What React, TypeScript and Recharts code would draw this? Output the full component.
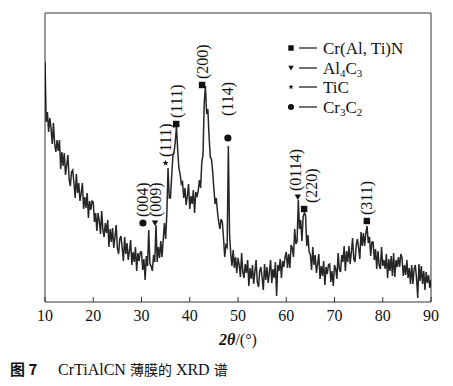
import React from "react";
import { ComposedChart, Line, Scatter, XAxis, YAxis, ReferenceArea } from "recharts";

// 2θ sampling of the scan
const twoThetaStart = 10;
const twoThetaStep = 0.25;

// Diffracted intensity (arbitrary units), one value per 0.25°
const intensity: number[] = [
  240, 180, 190, 170, 184, 174, 158, 179, 158, 150, 162, 151, 162, 133, 150, 136,
  149, 127, 137, 147, 123, 116, 130, 132, 119, 104, 128, 109, 119, 101, 109, 119,
  93, 105, 94, 109, 84, 101, 92, 101, 100, 80, 89, 71, 89, 81, 68, 91,
  72, 65, 79, 69, 82, 55, 73, 60, 74, 54, 65, 77, 54, 48, 63, 66,
  54, 41, 65, 48, 59, 42, 51, 62, 37, 50, 40, 55, 31, 49, 41, 50,
  50, 32, 43, 22, 46, 36, 72, 38, 36, 31, 47, 40, 77, 40, 55, 44,
  61, 45, 62, 79, 63, 88, 134, 104, 104, 125, 146, 150, 160, 176, 152, 134,
  128, 118, 120, 104, 114, 97, 106, 118, 93, 106, 98, 112, 89, 110, 105, 111,
  122, 114, 140, 147, 199, 216, 188, 193, 166, 145, 143, 130, 113, 98, 104, 90,
  80, 73, 83, 80, 64, 45, 57, 55, 156, 68, 48, 36, 52, 34, 45, 29,
  44, 37, 25, 49, 30, 24, 38, 29, 42, 16, 34, 23, 37, 18, 30, 42,
  20, 15, 31, 35, 24, 12, 38, 22, 35, 19, 30, 42, 19, 33, 24, 40,
  6, 37, 31, 43, 24, 41, 35, 45, 50, 34, 48, 34, 57, 54, 45, 73,
  58, 61, 102, 73, 82, 61, 85, 89, 87, 56, 67, 50, 47, 32, 55, 37,
  47, 29, 38, 48, 23, 36, 26, 41, 17, 35, 28, 37, 38, 20, 31, 16,
  37, 33, 23, 49, 33, 30, 47, 40, 56, 31, 51, 40, 56, 38, 50, 64,
  43, 40, 57, 63, 54, 43, 70, 56, 69, 56, 69, 76, 59, 65, 46, 60,
  60, 42, 53, 33, 51, 37, 33, 55, 36, 42, 33, 48, 24, 43, 31, 46,
  26, 49, 25, 42, 35, 45, 35, 48, 44, 26, 37, 27, 42, 24, 34, 18,
  37, 18, 33, 37, 24, 4, 38, 21, 36, 18, 31, 12, 30, 19, 27, 14,
  22,
];

// Peak annotations
const peakTwoTheta = [30.3, 32.8, 35.0, 37.2, 42.55, 47.9, 62.4, 63.7, 76.7];
const peakMarkerLevel = [79, 79, 139, 178, 217, 164, 105, 93, 81];
const peakPhase = ["Cr3C2", "Al4C3", "TiC", "CrAlTiN", "CrAlTiN", "Cr3C2", "Al4C3", "CrAlTiN", "CrAlTiN"];
const peakLabels = ["(004)", "(009)", "(111)", "(111)", "(200)", "(114)", "(0114)", "(220)", "(311)"];

const xTicks = [10, 20, 30, 40, 50, 60, 70, 80, 90];

const scanData = intensity.map((v, i) => ({ tt: twoThetaStart + i * twoThetaStep, v }));
const peakData = peakTwoTheta.map((tt, i) => ({
  tt,
  v: peakMarkerLevel[i],
  phase: peakPhase[i],
  label: peakLabels[i],
}));

// label placement styling (gap above marker, horizontal shift)
const labelGap: Record<string, number> = { "(114)": 22 };
const labelShift: Record<string, number> = { "(220)": 7, "(0114)": -2 };

const SERIF = "Liberation Serif";
const CJK = "Noto Sans CJK SC";
const INK = "#111";

function Marker({ kind, x, y, s = 1 }: { kind: string; x: number; y: number; s?: number }) {
  if (kind === "CrAlTiN") {
    const h = 3.2 * s;
    return <rect x={x - h} y={y - h} width={2 * h} height={2 * h} fill={INK} />;
  }
  if (kind === "Al4C3") {
    const w = 3.2 * s;
    return <polygon points={`${x - w},${y - 2.6 * s} ${x + w},${y - 2.6 * s} ${x},${y + 3 * s}`} fill={INK} />;
  }
  if (kind === "TiC") {
    const pts: string[] = [];
    for (let k = 0; k < 10; k++) {
      const r = k % 2 === 0 ? 3.2 * s : 1.3 * s;
      const a = -Math.PI / 2 + (k * Math.PI) / 5;
      pts.push(`${x + r * Math.cos(a)},${y + r * Math.sin(a)}`);
    }
    return <polygon points={pts.join(" ")} fill={INK} />;
  }
  return <circle cx={x} cy={y} r={3.6 * s} fill={INK} />;
}

const PeakShape = (props: any) => {
  const { cx, cy, payload } = props;
  if (cx == null || cy == null) return null;
  const gap = labelGap[payload.label] ?? 6;
  const dx = labelShift[payload.label] ?? 0;
  const lx = cx + dx;
  const ly = cy - gap;
  return (
    <g>
      <Marker kind={payload.phase} x={cx} y={cy} />
      <text
        x={lx}
        y={ly}
        transform={`rotate(-90, ${lx}, ${ly})`}
        textAnchor="start"
        dominantBaseline="central"
        style={{ fontFamily: SERIF, fontSize: 16 }}
        fill={INK}
      >
        {payload.label}
      </text>
    </g>
  );
};

const XTick = (props: any) => {
  const { x, y, payload } = props;
  return (
    <text x={x} y={y} dy="0.71em" textAnchor="middle" style={{ fontFamily: SERIF, fontSize: 16 }} fill={INK}>
      {payload.value}
    </text>
  );
};

const Sub = ({ children }: { children: React.ReactNode }) => (
  <tspan style={{ fontSize: 11 }} dy={3}>{children}</tspan>
);

export default function App() {
  const legendRows = [
    { kind: "CrAlTiN", y: 48, text: <tspan>Cr(Al, Ti)N</tspan> },
    {
      kind: "Al4C3",
      y: 68,
      text: (
        <>
          <tspan>Al</tspan>
          <Sub>4</Sub>
          <tspan dy={-3}>C</tspan>
          <Sub>3</Sub>
        </>
      ),
    },
    { kind: "TiC", y: 87, text: <tspan>TiC</tspan> },
    {
      kind: "Cr3C2",
      y: 107,
      text: (
        <>
          <tspan>Cr</tspan>
          <Sub>3</Sub>
          <tspan dy={-3}>C</tspan>
          <Sub>2</Sub>
        </>
      ),
    },
  ];

  return (
    <div style={{ position: "absolute", left: 0, top: 0, width: 453, height: 386, background: "#fff" }}>
      <ComposedChart
        width={453}
        height={386}
        data={scanData}
        margin={{ top: 13, right: 22, left: 45, bottom: 54 }}
      >
        <XAxis
          dataKey="tt"
          type="number"
          domain={[10, 90]}
          ticks={xTicks}
          height={30}
          axisLine={false}
          tickSize={-5}
          tickMargin={13}
          tickLine={{ stroke: "#333" }}
          tick={XTick}
          allowDataOverflow
        />
        <YAxis type="number" domain={[0, 289]} hide allowDataOverflow />
        <ReferenceArea x1={10} x2={90} y1={0} y2={289} fill="none" stroke="#333" strokeWidth={1} ifOverflow="visible" />
        <Line
          type="linear"
          dataKey="v"
          stroke="#000"
          strokeOpacity={0.85}
          strokeWidth={1.5}
          strokeLinejoin="miter"
          dot={false}
          isAnimationActive={false}
        />
        <Scatter data={peakData} dataKey="v" shape={PeakShape} isAnimationActive={false} />
      </ComposedChart>
      <svg width={453} height={386} style={{ position: "absolute", left: 0, top: 0, pointerEvents: "none" }}>
        {legendRows.map((r) => (
          <g key={r.kind}>
            <Marker kind={r.kind} x={291} y={r.y} s={0.85} />
            <line x1={299} x2={317} y1={r.y} y2={r.y} stroke={INK} strokeWidth={1.2} />
            <text x={323} y={r.y + 6} style={{ fontFamily: SERIF, fontSize: 17 }} fill={INK}>
              {r.text}
            </text>
          </g>
        ))}
        <text x={238} y={345} textAnchor="middle" style={{ fontFamily: SERIF, fontSize: 16 }} fill={INK}>
          <tspan style={{ fontStyle: "italic", fontWeight: "bold" }}>2θ</tspan>
          <tspan>/(°)</tspan>
        </text>
        <text x={10} y={375} style={{ fontFamily: CJK, fontWeight: "bold", fontSize: 15 }} fill={INK}>
          图 7
        </text>
        <text x={58} y={375} style={{ fontFamily: SERIF, fontSize: 16 }} fill={INK}>
          <tspan>CrTiAlCN </tspan>
          <tspan style={{ fontFamily: CJK, fontSize: 14 }}>薄膜的</tspan>
          <tspan> XRD </tspan>
          <tspan style={{ fontFamily: CJK, fontSize: 14 }}>谱</tspan>
        </text>
      </svg>
    </div>
  );
}
